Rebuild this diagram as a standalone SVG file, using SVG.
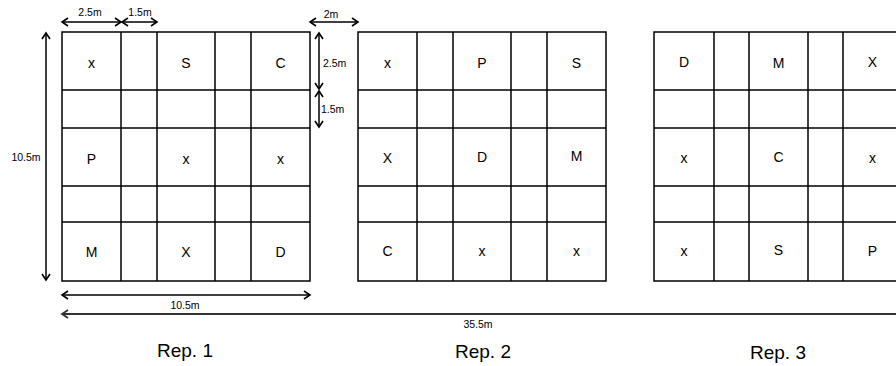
<svg xmlns="http://www.w3.org/2000/svg" width="896" height="366" viewBox="0 0 896 366">
  <defs>
    <marker id="arr" markerUnits="userSpaceOnUse" markerWidth="10" markerHeight="10" refX="8" refY="5" orient="auto-start-reverse">
      <path d="M2,1 L8,5 L2,9" fill="none" stroke="#000" stroke-width="1.6"/>
    </marker>
    <marker id="arr2" markerUnits="userSpaceOnUse" markerWidth="10" markerHeight="10" refX="8" refY="5" orient="auto-start-reverse">
      <path d="M2,1 L8,5 L2,9" fill="none" stroke="#333" stroke-width="1.8"/>
    </marker>
  </defs>
  <style>
    .grid { fill: #fff; stroke: #000; stroke-width: 1.5; }
    .gl { stroke: #000; stroke-width: 1.5; fill: none; }
    .cell { font-family: "Liberation Sans", Arial, sans-serif; font-size: 14px; text-anchor: middle; fill: #000; }
    .dim { stroke: #000; stroke-width: 1.5; fill: none; marker-start: url(#arr); marker-end: url(#arr); }
    .dim2 { stroke: #333; stroke-width: 2; fill: none; marker-start: url(#arr2); marker-end: url(#arr2); }
    .dl { font-family: "Liberation Sans", Arial, sans-serif; font-size: 10.5px; fill: #000; }
    .rep { font-family: "Liberation Sans", Arial, sans-serif; font-size: 19px; text-anchor: middle; fill: #000; }
  </style>
  <rect width="896" height="366" fill="#fff"/>

  <g id="rep1">
    <rect class="grid" x="62" y="32" width="248" height="249"/>
    <path class="gl" d="M121,32V281 M157,32V281 M215,32V281 M251,32V281 M62,90H310 M62,128H310 M62,186H310 M62,222H310"/>
    <text class="cell" x="91.5" y="68">x</text>
    <text class="cell" x="186" y="68">S</text>
    <text class="cell" x="280.5" y="68">C</text>
    <text class="cell" x="91.5" y="164">P</text>
    <text class="cell" x="186" y="164">x</text>
    <text class="cell" x="280.5" y="164">x</text>
    <text class="cell" x="91.5" y="257">M</text>
    <text class="cell" x="186" y="257">X</text>
    <text class="cell" x="280.5" y="257">D</text>
  </g>

  <g id="rep2">
    <rect class="grid" x="358" y="32" width="248" height="249"/>
    <path class="gl" d="M417,32V281 M453,32V281 M511,32V281 M547,32V281 M358,90H606 M358,128H606 M358,186H606 M358,222H606"/>
    <text class="cell" x="387.5" y="68">x</text>
    <text class="cell" x="482" y="68">P</text>
    <text class="cell" x="576.5" y="68">S</text>
    <text class="cell" x="387.5" y="163">X</text>
    <text class="cell" x="482" y="162">D</text>
    <text class="cell" x="576.5" y="161">M</text>
    <text class="cell" x="387.5" y="256">C</text>
    <text class="cell" x="482" y="256">x</text>
    <text class="cell" x="576.5" y="256">x</text>
  </g>

  <g id="rep3">
    <rect class="grid" x="654" y="32" width="248" height="249"/>
    <path class="gl" d="M714,32V281 M749,32V281 M808,32V281 M843,32V281 M654,90H902 M654,128H902 M654,186H902 M654,222H902"/>
    <text class="cell" x="684" y="67">D</text>
    <text class="cell" x="778.5" y="68">M</text>
    <text class="cell" x="872.5" y="67">X</text>
    <text class="cell" x="684" y="163">x</text>
    <text class="cell" x="778.5" y="162">C</text>
    <text class="cell" x="872.5" y="163">x</text>
    <text class="cell" x="684" y="256">x</text>
    <text class="cell" x="778.5" y="255">S</text>
    <text class="cell" x="872.5" y="256">P</text>
  </g>

  <g id="connectors">
    <line class="dim" x1="62" y1="22" x2="121" y2="22"/>
    <line class="dim" x1="122" y1="22" x2="157" y2="22"/>
    <line class="dim" x1="310" y1="22" x2="358" y2="22"/>
    <line class="dim" x1="319" y1="33" x2="319" y2="89"/>
    <line class="dim" x1="319" y1="91" x2="319" y2="127"/>
    <line class="dim" x1="46" y1="33" x2="46" y2="280"/>
    <line class="dim" x1="62" y1="295" x2="310" y2="295"/>
    <line class="dim2" x1="62" y1="314" x2="906" y2="314"/>
  </g>

  <g id="dimension-labels">
    <text class="dl" x="90" y="16" text-anchor="middle">2.5m</text>
    <text class="dl" x="140" y="16" text-anchor="middle">1.5m</text>
    <text class="dl" x="331" y="18" text-anchor="middle">2m</text>
    <text class="dl" x="323" y="67">2.5m</text>
    <text class="dl" x="321" y="113">1.5m</text>
    <text class="dl" x="26" y="161" text-anchor="middle">10.5m</text>
    <text class="dl" x="185" y="309" text-anchor="middle">10.5m</text>
    <text class="dl" x="478" y="328" text-anchor="middle">35.5m</text>
  </g>

  <g id="titles">
    <text class="rep" x="185" y="357">Rep. 1</text>
    <text class="rep" x="483" y="358">Rep. 2</text>
    <text class="rep" x="778" y="359">Rep. 3</text>
  </g>
</svg>
